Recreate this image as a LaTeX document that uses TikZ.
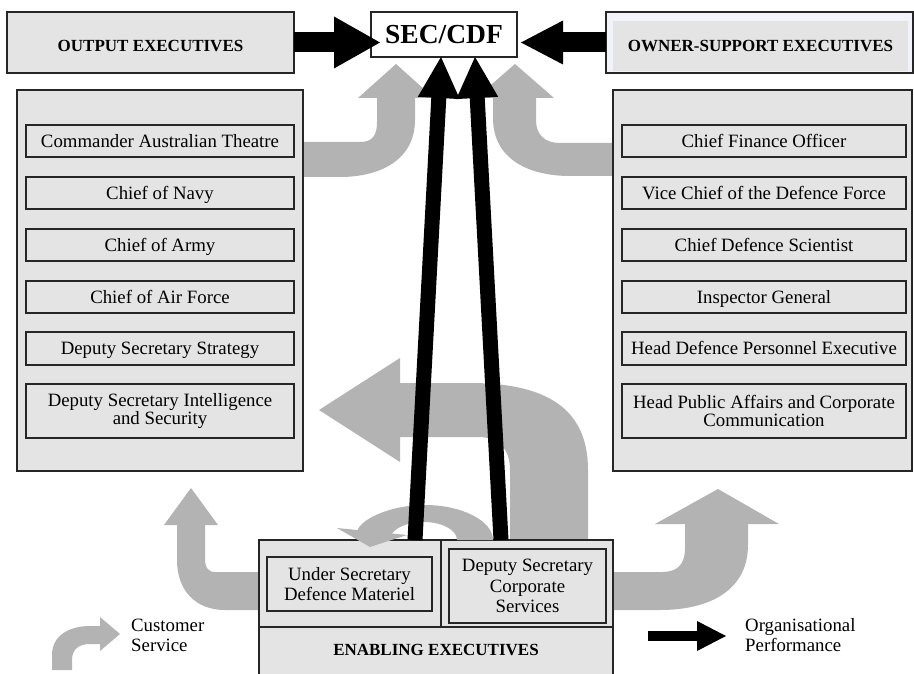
\documentclass[tikz,border=0pt]{standalone}
\usepackage{fontspec}
\setmainfont{Liberation Serif}
\usetikzlibrary{calc}
\definecolor{boxgray}{HTML}{E4E4E4}
\definecolor{arrgray}{HTML}{B3B3B3}
\definecolor{lav}{HTML}{F2F2FB}
\definecolor{edge}{HTML}{262626}
\newcommand\perfarr[5]{%
  \coordinate (pa-b) at ($(#2)!#4!(#1)$);
  \coordinate (pa-c) at ($(pa-b)!1.5pt!(#2)$);
  \draw[line width=#3] (#1) -- (pa-c);
  \fill ($(pa-b)!#5!90:(#2)$) -- (#2) -- ($(pa-b)!#5!-90:(#2)$) -- cycle;
}
\begin{document}
\begin{tikzpicture}[x=1pt,y=-1pt,
  box/.style={draw=edge,line width=1.1pt,fill=boxgray,inner sep=0pt,outer sep=0pt,anchor=north west,align=center,font=\fontsize{18.8}{18.6}\selectfont},
  one/.style={text height=12.5pt,text depth=0pt},
  hdr/.style={font=\bfseries\fontsize{17}{19}\selectfont},
  flow/.style={fill=arrgray},
  lbl/.style={inner sep=0pt,anchor=base west,font=\fontsize{18.8}{20}\selectfont}]
\useasboundingbox (0,0) rectangle (914,674);

% ---- grey customer-service flows (behind boxes)
% output executives -> SEC/CDF
\fill[flow] (303,142) -- (360,142) .. controls (373,142) and (377,135) .. (377,122) -- (377,98) -- (358,98) -- (396,64) -- (434,98) -- (415,98) -- (415,120) .. controls (415,160) and (380,177) .. (340,177) -- (303,177) -- cycle;
% owner-support -> SEC/CDF
\fill[flow] (613,143) -- (560,143) .. controls (545,143) and (536,135) .. (536,120) -- (536,98) -- (554,98) -- (515,64) -- (476,98) -- (493,98) -- (493,118) .. controls (493,160) and (530,176) .. (570,176) -- (613,176) -- cycle;
% enabling -> output executives (big S arrow)
\fill[flow] (400,383) -- (470,383) .. controls (555,383) and (588,415) .. (588,470) -- (588,540) -- (510,540) -- (510,470) .. controls (510,448) and (498,437) .. (478,437) -- (400,437) -- (400,462) -- (319,410) -- (400,358) -- cycle;
% enabling -> output (bottom left)
\fill[flow] (259,572) -- (215,572) .. controls (208,572) and (205,567) .. (205,560) -- (205,525) -- (218,525) -- (191,488) -- (164,525) -- (177,525) -- (177,560) .. controls (177,590) and (195,610) .. (225,610) -- (259,610) -- cycle;
% enabling -> owner-support (bottom right)
\fill[flow] (613,572) -- (662,572) .. controls (677,572) and (685,565) .. (685,548) -- (685,524) -- (655,524) -- (718,489) -- (779,524) -- (748,524) -- (748,545) .. controls (748,590) and (710,610) .. (660,610) -- (613,610) -- cycle;

% ---- top row
\node[box,hdr,minimum width=287pt,minimum height=61pt,text height=19pt,text depth=0pt] (outexec) at (7,12) {OUTPUT EXECUTIVES};
\node[box,fill=white,minimum width=146pt,minimum height=45pt,font=\bfseries\fontsize{27.5}{30}\selectfont] (sec) at (371,12) {SEC/CDF};
\node[box,fill=lav,minimum width=307pt,minimum height=61pt] (ownerouter) at (606,12) {};
\node[box,hdr,text height=11.5pt,text depth=0pt,draw=none,minimum width=295pt,minimum height=50pt] (owner) at (613,21) {OWNER-SUPPORT EXECUTIVES};

% ---- output executives list
\node[box,minimum width=286pt,minimum height=381pt] (outlist) at (17,90) {};
\node[box,one,minimum width=268pt,minimum height=32pt] (lo1) at (26,125) {Commander Australian Theatre};
\node[box,one,minimum width=268pt,minimum height=32pt] (lo2) at (26,177) {Chief of Navy};
\node[box,one,minimum width=268pt,minimum height=32pt] (lo3) at (26,229) {Chief of Army};
\node[box,one,minimum width=268pt,minimum height=32pt] (lo4) at (26,281) {Chief of Air Force};
\node[box,one,minimum width=268pt,minimum height=33pt] (lo5) at (26,332) {Deputy Secretary Strategy};
\node[box,minimum width=268pt,minimum height=54pt] (lo6) at (26,384) {Deputy Secretary Intelligence\\and Security};

% ---- owner-support list
\node[box,minimum width=299pt,minimum height=381pt] (ownlist) at (613,90) {};
\node[box,one,minimum width=284pt,minimum height=32pt] (ro1) at (622,125) {Chief Finance Officer};
\node[box,one,minimum width=284pt,minimum height=32pt] (ro2) at (622,177) {Vice Chief of the Defence Force};
\node[box,one,minimum width=284pt,minimum height=32pt] (ro3) at (622,229) {Chief Defence Scientist};
\node[box,one,minimum width=284pt,minimum height=32pt] (ro4) at (622,281) {Inspector General};
\node[box,one,minimum width=284pt,minimum height=33pt] (ro5) at (622,332) {Head Defence Personnel Executive};
\node[box,minimum width=284pt,minimum height=54pt] (ro6) at (622,384) {Head Public Affairs and Corporate\\Communication};

% ---- enabling executives
\node[box,minimum width=354pt,minimum height=145pt] (enab) at (259,540) {};
\draw[draw=edge,line width=1.1pt] (enab.west |- 0,627) -- (enab.east |- 0,627);
\draw[draw=edge,line width=1.1pt] ($(enab.north west)+(182,0)$) -- ($(enab.north west)+(182,87)$);
\node[box,minimum width=165pt,minimum height=54pt,font=\fontsize{18.8}{20}\selectfont] (usdm) at (267,557) {Under Secretary\\Defence Materiel};
\node[box,minimum width=157pt,minimum height=74pt,font=\fontsize{18.8}{20.5}\selectfont] (dscs) at (449,549) {Deputy Secretary\\Corporate\\Services};
\node[hdr,inner sep=0pt] (enablbl) at (436,650) {ENABLING EXECUTIVES};

% small curl: corporate services -> defence materiel
\fill[flow] (493,540) .. controls (493,521) and (462,505) .. (425,505) .. controls (388,505) and (357,521) .. (357,533) -- (391,536) .. controls (393,529) and (406,522) .. (424,522) .. controls (442,522) and (457,530) .. (457,540) -- cycle;
\fill[flow] (337,528) -- (407,535) -- (370,547) -- cycle;

% ---- black organisational-performance arrows
\perfarr{outexec.east}{$(sec.west |- outexec.east)+(9,0)$}{20pt}{46pt}{26pt}
\perfarr{ownerouter.west}{$(sec.east |- ownerouter.west)+(4,0)$}{20pt}{42pt}{22pt}
\coordinate (e1) at ($(enab.north west)+(156,0)$);
\coordinate (e2) at ($(enab.north west)+(242,0)$);
\coordinate (s1) at ($(sec.south)+(-3,0)$);
\coordinate (s2) at ($(sec.south)+(31,0)$);
\perfarr{e1}{s1}{15pt}{41pt}{21pt}
\perfarr{e2}{s2}{15pt}{41pt}{21pt}

% ---- legend
\fill[flow] (52,670) -- (52,655) .. controls (52,635) and (70,626) .. (90,626) -- (100,626) -- (100,617) -- (120,634) -- (100,651) -- (100,644) -- (90,644) .. controls (78,644) and (72,650) .. (72,660) -- (72,670) -- cycle;
\node[lbl] (legcs) at (131,631) {\begin{tabular}[t]{@{}l@{}}Customer\\Service\end{tabular}};
\coordinate (lp1) at (648,636);
\coordinate (lp2) at (726,636);
\perfarr{lp1}{lp2}{10pt}{29pt}{15pt}
\node[lbl] (legop) at (745,631) {\begin{tabular}[t]{@{}l@{}}Organisational\\Performance\end{tabular}};
\end{tikzpicture}
\end{document}
